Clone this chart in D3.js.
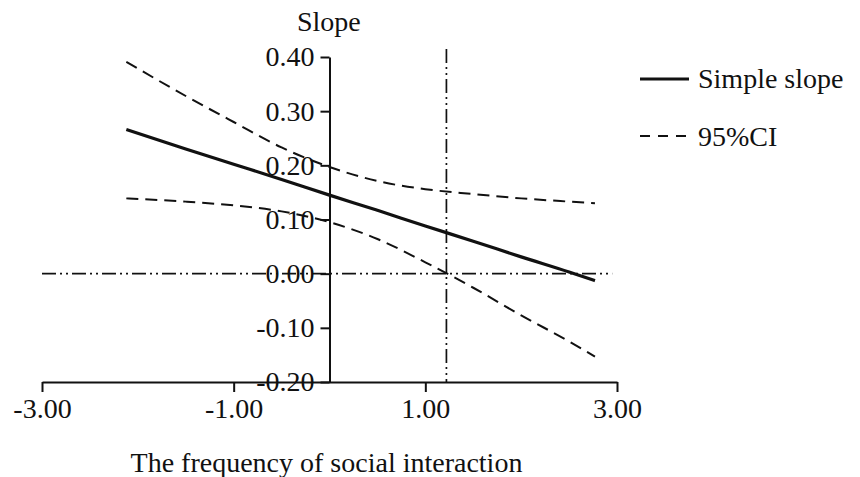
<!DOCTYPE html>
<html>
<head>
<meta charset="utf-8">
<script src="https://cdn.jsdelivr.net/npm/d3@7"></script>
<style>
  html, body { margin: 0; padding: 0; background: #fff; }
  svg { display: block; }
  text { font-family: "Liberation Serif", "Times New Roman", serif; fill: #111; }
</style>
</head>
<body>
<svg id="chart" width="860" height="477"></svg>
<script>
// ---- data ----
const moderator   = [-2.12, -1.5, -1.0, -0.5, 0.0, 0.5, 1.0, 1.5, 2.0, 2.5, 2.77];
const simpleSlope = [0.266, 0.230, 0.202, 0.174, 0.145, 0.117, 0.088, 0.060, 0.031, 0.003, -0.013];
const ciUpper     = [0.391, 0.328, 0.280, 0.233, 0.197, 0.171, 0.156, 0.147, 0.139, 0.133, 0.130];
const ciLower     = [0.139, 0.133, 0.126, 0.115, 0.095, 0.064, 0.021, -0.026, -0.077, -0.125, -0.153];
const jnPoint     = 1.22;
const xTicks      = [-3, -1, 1, 3];
const yTicks      = [-0.2, -0.1, 0, 0.1, 0.2, 0.3, 0.4];
const legendLabels = ["Simple slope", "95%CI"];
const xTitle = "The frequency of social interaction";
const yTitle = "Slope";

const svg = d3.select("#chart");
const x = d3.scaleLinear().domain([-3, 3]).range([42, 617]);
const y = d3.scaleLinear().domain([-0.2, 0.4]).range([382, 57]);
const FS = 28;
const fmt = d => d3.format(".2f")(d).replace("\u2212", "-");

// reference lines (dash-dot-dot)
const ddot = "14,4,2,4,2,4";
svg.append("line")
  .attr("x1", x(-3)).attr("x2", x(2.95))
  .attr("y1", y(0)).attr("y2", y(0))
  .attr("stroke", "#111").attr("stroke-width", 1.7)
  .attr("stroke-dasharray", ddot);
svg.append("line")
  .attr("x1", x(jnPoint)).attr("x2", x(jnPoint))
  .attr("y1", y(0.415)).attr("y2", y(-0.2))
  .attr("stroke", "#111").attr("stroke-width", 1.7)
  .attr("stroke-dasharray", ddot);

// axes
const yAxis = d3.axisLeft(y).tickValues(yTicks).tickFormat(fmt)
  .tickSizeInner(9).tickSizeOuter(0).tickPadding(6);
const gy = svg.append("g").attr("transform", `translate(${x(0)},0)`).call(yAxis);
gy.select(".domain").attr("stroke", "#111").attr("stroke-width", 2);
gy.selectAll(".tick line").attr("stroke", "#111").attr("stroke-width", 2);
gy.selectAll(".tick text").attr("font-size", FS).attr("font-family", "Liberation Serif").attr("fill", "#111");

const xAxis = d3.axisBottom(x).tickValues(xTicks).tickFormat(fmt)
  .tickSizeInner(10).tickSizeOuter(0).tickPadding(6);
const gx = svg.append("g").attr("transform", `translate(0,${y(-0.2)})`).call(xAxis);
gx.select(".domain").attr("stroke", "#111").attr("stroke-width", 2);
gx.selectAll(".tick line").attr("stroke", "#111").attr("stroke-width", 2);
gx.selectAll(".tick text").attr("font-size", FS).attr("font-family", "Liberation Serif").attr("fill", "#111");

// series
const pts = (vals) => moderator.map((m, i) => [m, vals[i]]);
const line = d3.line().x(d => x(d[0])).y(d => y(d[1])).curve(d3.curveMonotoneX);

svg.append("path").datum(pts(ciUpper)).attr("d", line)
  .attr("fill", "none").attr("stroke", "#111").attr("stroke-width", 2)
  .attr("stroke-dasharray", "12,7");
svg.append("path").datum(pts(ciLower)).attr("d", line)
  .attr("fill", "none").attr("stroke", "#111").attr("stroke-width", 2)
  .attr("stroke-dasharray", "12,7");
svg.append("path").datum(pts(simpleSlope)).attr("d", line)
  .attr("fill", "none").attr("stroke", "#111").attr("stroke-width", 3.2);

// titles
svg.append("text").attr("x", 297).attr("y", 31).attr("font-size", FS).text(yTitle);
svg.append("text").attr("x", x(0) - 3).attr("y", 472).attr("text-anchor", "middle")
  .attr("font-size", FS).text(xTitle);

// legend
const lg = svg.append("g");
lg.append("line").attr("x1", 640).attr("x2", 689).attr("y1", 79).attr("y2", 79)
  .attr("stroke", "#111").attr("stroke-width", 3.2);
lg.append("text").attr("x", 698).attr("y", 88).attr("font-size", FS).text(legendLabels[0]);
lg.append("line").attr("x1", 640).attr("x2", 686).attr("y1", 136).attr("y2", 136)
  .attr("stroke", "#111").attr("stroke-width", 2).attr("stroke-dasharray", "10,8");
lg.append("text").attr("x", 698).attr("y", 146).attr("font-size", FS).text(legendLabels[1]);
</script>
</body>
</html>
